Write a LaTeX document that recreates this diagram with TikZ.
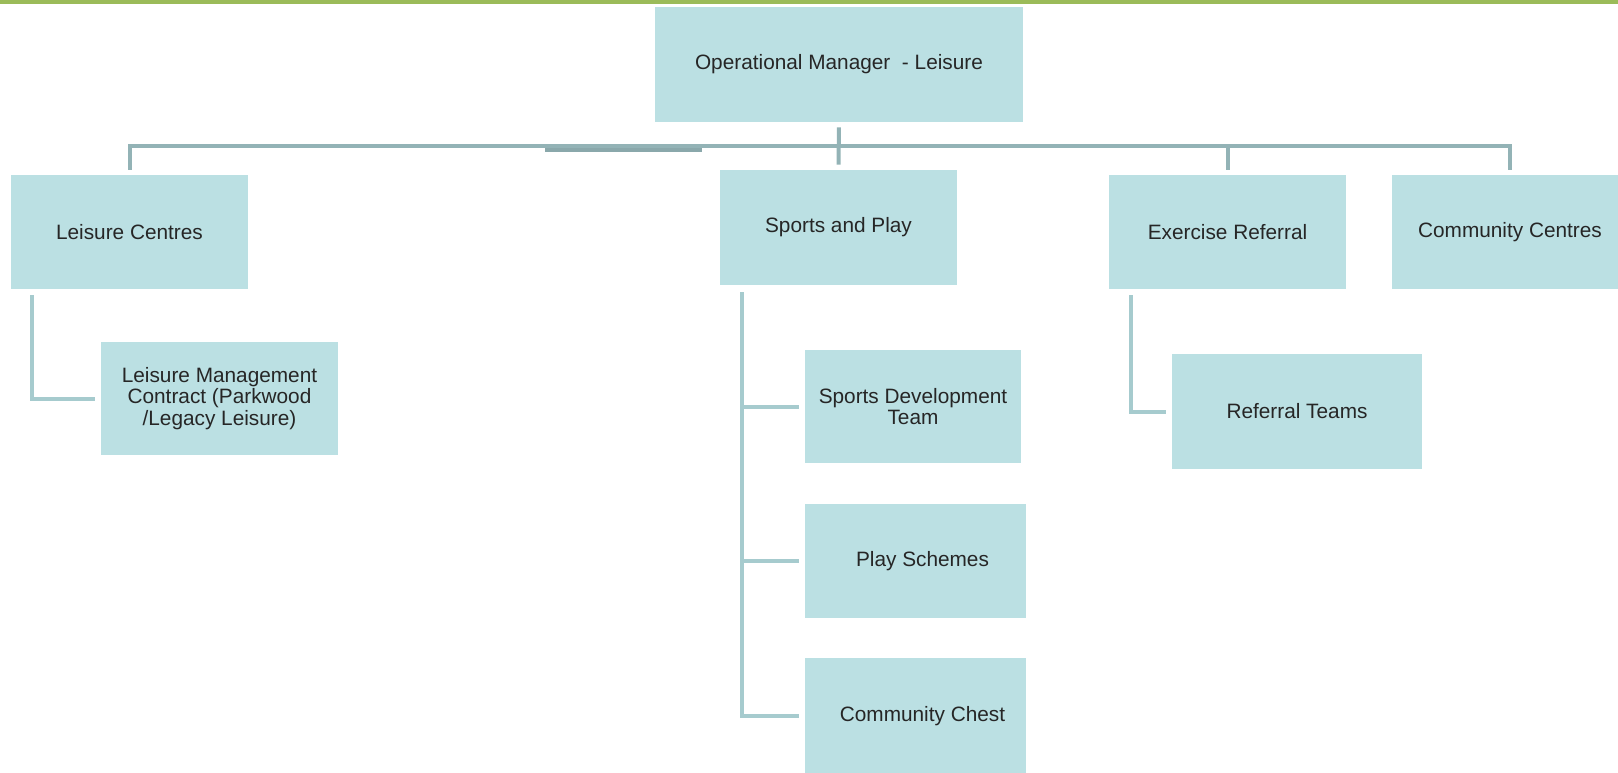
\documentclass[tikz,border=0pt]{standalone}
\usepackage{fontspec}
\setmainfont{Liberation Sans}
\usepackage{tikz}
\usetikzlibrary{calc}
\usepackage{color}
\definecolor{boxfill}{HTML}{BBE0E3}
\definecolor{busgrey}{HTML}{93B3B6}
\definecolor{busdark}{HTML}{8AA8AB}
\definecolor{subteal}{HTML}{A6CBCE}
\definecolor{topgreen}{HTML}{9BBB59}
\definecolor{textgrey}{HTML}{262626}

\begin{document}
\begin{tikzpicture}[x=0.5pt,y=-0.5pt,
  unit/.style={fill=boxfill,inner sep=0pt,text=textgrey,align=center,
    font=\fontsize{10.4}{10.6}\selectfont},
  bus/.style={draw=busgrey,line width=2pt},
  sub/.style={draw=subteal,line width=2pt,shorten >=3pt}]
  \useasboundingbox (0,0) rectangle (1618,772);
  \fill[topgreen] (0,0) rectangle (1618,4);

  \node (OM) at (839,64.5) [unit,minimum width=184pt,minimum height=57.5pt] {Operational Manager~~- Leisure};
  \node (LC) at (129.5,232) [unit,minimum width=118.5pt,minimum height=57pt] {Leisure Centres};
  \node (SP) at (838.5,227.5) [unit,minimum width=118.5pt,minimum height=57.5pt] {Sports and Play};
  \node (ER) at (1227.5,232) [unit,minimum width=118.5pt,minimum height=57pt] {Exercise Referral};
  \node (CC) at (1510,232) [unit,minimum width=118pt,minimum height=57pt] {Community Centres};
  \node (LM) at (219.5,398.5) [unit,minimum width=118.5pt,minimum height=56.5pt] {Leisure Management\\Contract (Parkwood\\/Legacy Leisure)};
  \node (SD) at (913,406.5) [unit,minimum width=108pt,minimum height=56.5pt] {Sports Development\\Team};
  \node (PS) at (915.5,561) [unit,minimum width=110.5pt,minimum height=57pt] {\hspace*{7pt}Play Schemes};
  \node (CH) at (915.5,716) [unit,minimum width=110.5pt,minimum height=58pt] {\hspace*{7pt}Community Chest};
  \node (RT) at (1297,411.5) [unit,minimum width=125pt,minimum height=57.5pt] {Referral Teams};

  \coordinate (bus) at (839,146);
  \coordinate (knotA) at (545,149.5);
  \coordinate (knotB) at (702,149.5);
  \coordinate (LCdown) at ($(LC.south west)+(21,6)$);
  \coordinate (SPdown) at ($(SP.south west)+(22,7)$);
  \coordinate (ERdown) at ($(ER.south west)+(22,6)$);

\draw[bus,shorten <=2.5pt,shorten >=2.5pt]
   (LC.north) |- (bus) -| (CC.north);
\draw[bus,draw=busdark] (knotA) to (knotB);
\draw[bus,shorten <=2.5pt,shorten >=2.5pt]
   (OM.south) to (SP.north);
\draw[bus,shorten >=2.5pt]
   (ER.north |- bus) to (ER.north);

\draw[sub] (LCdown) |- (LM.west);
\draw[sub] (ERdown) |- (RT.west);
\draw[sub] (SPdown) |- (CH.west);
\foreach \n in {SD,PS}
  \draw[sub] (SPdown |- \n.west) to (\n.west);

\end{tikzpicture}
\end{document}
